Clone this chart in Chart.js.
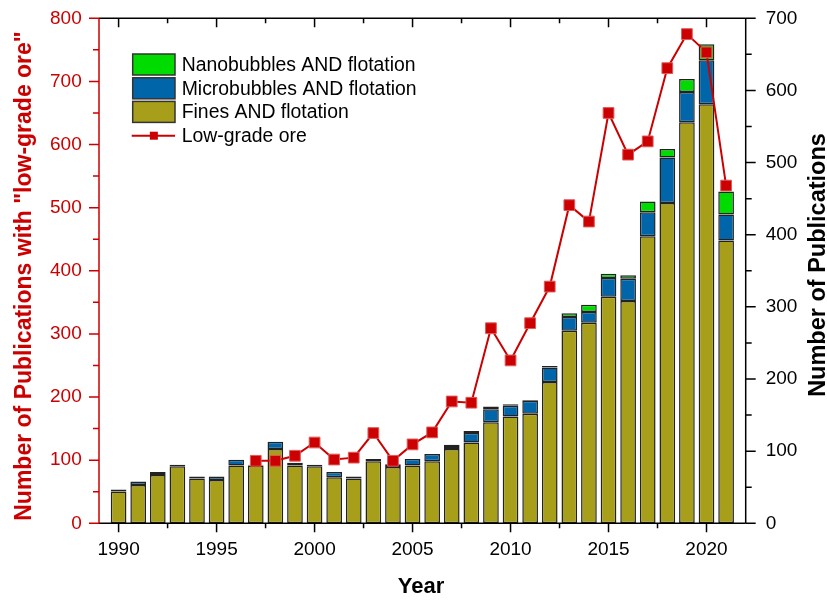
<!DOCTYPE html>
<html>
<head>
<meta charset="utf-8">
<script src="https://cdn.jsdelivr.net/npm/chart.js@4.4.1/dist/chart.umd.min.js"></script>
<style>
  html, body { margin: 0; padding: 0; background: #fff; }
  #wrap { width: 827px; height: 600px; }
</style>
</head>
<body>
<div id="wrap"><canvas id="c" width="827" height="600"></canvas></div>
<script>
// Publication counts per year (right axis, stacked bars)
const years = [1990, 1991, 1992, 1993, 1994, 1995, 1996, 1997, 1998, 1999,
               2000, 2001, 2002, 2003, 2004, 2005, 2006, 2007, 2008, 2009,
               2010, 2011, 2012, 2013, 2014, 2015, 2016, 2017, 2018, 2019,
               2020, 2021];
const fines = [44, 53, 67, 79, 62, 60, 80, 80, 103, 80,
               79, 64, 62, 86, 78, 80, 86, 103, 112, 140,
               148, 152, 196, 267, 278, 314, 308, 398, 444, 556,
               581, 392];
const micro = [3, 5, 4, 2, 3, 5, 8, 1, 10, 4,
               2, 7, 3, 3, 4, 9, 10, 4, 13, 18,
               15, 18, 20, 19, 15, 26, 31, 33, 63, 42,
               61, 36];
const nano  = [0, 0, 0, 0, 0, 0, 0, 0, 0, 0,
               0, 0, 0, 0, 0, 0, 0, 2, 3, 4,
               2, 1, 2, 5, 10, 6, 5, 15, 12, 18,
               22, 32];

// Publications with "low-grade ore" (left axis, line)
const oreYears = [1997, 1998, 1999, 2000, 2001, 2002, 2003, 2004, 2005, 2006,
                  2007, 2008, 2009, 2010, 2011, 2012, 2013, 2014, 2015, 2016,
                  2017, 2018, 2019, 2020, 2021];
const lowGradeOre = [99, 99, 107, 128, 101, 104, 143, 99, 125, 144,
                     193, 191, 309, 258, 317, 375, 504, 478, 650, 584,
                     605, 721, 775, 746, 535];

// Axis ticks
const xMajorTicks = [1990, 1995, 2000, 2005, 2010, 2015, 2020];
const leftTicks = [0, 100, 200, 300, 400, 500, 600, 700, 800];
const rightTicks = [0, 100, 200, 300, 400, 500, 600, 700];

const labels = {
  nano: 'Nanobubbles AND flotation',
  micro: 'Microbubbles AND flotation',
  fines: 'Fines AND flotation',
  ore: 'Low-grade ore'
};

const FONT = '"Liberation Sans", Arial, sans-serif';
const RED = '#CC0000';
const AREA = { left: 99, right: 745.7, top: 18.3, bottom: 523.3 };
const W = 827, H = 600;

const pairs = (xs, ys) => xs.map((x, i) => ({ x: x, y: ys[i] }));

const barStyle = {
  type: 'bar',
  yAxisID: 'yR',
  stack: 'pubs',
  borderColor: '#222',
  borderWidth: 1.5,
  borderSkipped: false,
  categoryPercentage: 1.0,
  barPercentage: 0.8,
  order: 1
};

// keep the y scales from reserving extra room for half-height labels
const fitVertical = width => s => {
  s.width = width;
  s.paddingTop = 0;
  s.paddingBottom = 0;
};

// Frame, tick marks, titles and the legend box
const decorations = {
  id: 'decorations',
  afterDraw(chart) {
    const ctx = chart.ctx;
    const a = chart.chartArea;
    const sx = chart.scales.x, sl = chart.scales.yL, sr = chart.scales.yR;
    ctx.save();
    ctx.lineWidth = 1.5;
    ctx.lineCap = 'butt';

    // frame
    ctx.strokeStyle = '#000';
    ctx.beginPath();
    ctx.moveTo(a.left, a.top); ctx.lineTo(a.right, a.top);
    ctx.moveTo(a.right, a.top); ctx.lineTo(a.right, a.bottom);
    ctx.moveTo(a.left, a.bottom); ctx.lineTo(a.right, a.bottom);
    ctx.stroke();

    // x ticks (bottom: outward, top: inward)
    const xMinor = [];
    for (let i = 0; i < xMajorTicks.length - 1; i++) xMinor.push((xMajorTicks[i] + xMajorTicks[i + 1]) / 2);
    ctx.beginPath();
    xMajorTicks.forEach(v => {
      const px = sx.getPixelForValue(v);
      ctx.moveTo(px, a.bottom); ctx.lineTo(px, a.bottom + 9);
      ctx.moveTo(px, a.top); ctx.lineTo(px, a.top + 9);
    });
    xMinor.forEach(v => {
      const px = sx.getPixelForValue(v);
      ctx.moveTo(px, a.bottom); ctx.lineTo(px, a.bottom + 5);
      ctx.moveTo(px, a.top); ctx.lineTo(px, a.top + 5);
    });
    ctx.stroke();

    // right ticks
    ctx.beginPath();
    rightTicks.forEach((v, i) => {
      const py = sr.getPixelForValue(v);
      ctx.moveTo(a.right, py); ctx.lineTo(a.right + 10, py);
      if (i < rightTicks.length - 1) {
        const pm = sr.getPixelForValue((v + rightTicks[i + 1]) / 2);
        ctx.moveTo(a.right, pm); ctx.lineTo(a.right + 6, pm);
      }
    });
    ctx.stroke();

    // left axis in red
    ctx.strokeStyle = RED;
    ctx.beginPath();
    ctx.moveTo(a.left, a.top); ctx.lineTo(a.left, a.bottom);
    leftTicks.forEach((v, i) => {
      const py = sl.getPixelForValue(v);
      ctx.moveTo(a.left, py); ctx.lineTo(a.left - 10, py);
      if (i < leftTicks.length - 1) {
        const pm = sl.getPixelForValue((v + leftTicks[i + 1]) / 2);
        ctx.moveTo(a.left, pm); ctx.lineTo(a.left - 6, pm);
      }
    });
    ctx.stroke();

    // axis titles
    ctx.textAlign = 'center';
    ctx.textBaseline = 'alphabetic';
    ctx.font = 'bold 23px ' + FONT;
    ctx.fillStyle = RED;
    ctx.save();
    ctx.translate(30.5, 276);
    ctx.rotate(-Math.PI / 2);
    ctx.fillText('Number of Publications with "low-grade ore"', 0, 0);
    ctx.restore();

    ctx.fillStyle = '#000';
    ctx.font = 'bold 23.5px ' + FONT;
    ctx.save();
    ctx.translate(825, 265);
    ctx.rotate(-Math.PI / 2);
    ctx.fillText('Number of Publications', 0, 0);
    ctx.restore();

    ctx.font = 'bold 22px ' + FONT;
    ctx.fillText('Year', 421, 593);

    // legend
    const ds = chart.data.datasets;
    const rows = [ds[2], ds[1], ds[0]];
    const lx = 132.7, lw = 42.3, lh = 21, textX = 181.7;
    const rowY = [64.5, 88.3, 111.9, 135.7];
    ctx.font = '19.4px ' + FONT;
    ctx.textAlign = 'left';
    ctx.textBaseline = 'middle';
    rows.forEach((d, i) => {
      ctx.fillStyle = d.backgroundColor;
      ctx.fillRect(lx, rowY[i] - lh / 2, lw, lh);
      ctx.strokeStyle = '#333';
      ctx.lineWidth = 1.5;
      ctx.strokeRect(lx, rowY[i] - lh / 2, lw, lh);
      ctx.fillStyle = '#000';
      ctx.fillText(d.label, textX, rowY[i] + 1);
    });
    const ore = ds[3];
    ctx.strokeStyle = ore.borderColor;
    ctx.lineWidth = 2;
    ctx.beginPath();
    ctx.moveTo(lx - 1, rowY[3]); ctx.lineTo(lx + lw, rowY[3]);
    ctx.stroke();
    ctx.fillStyle = ore.pointBackgroundColor;
    ctx.fillRect(lx + lw / 2 - 4, rowY[3] - 4, 8, 8);
    ctx.fillStyle = '#000';
    ctx.fillText(ore.label, textX, rowY[3] + 1);

    ctx.restore();
  }
};

new Chart(document.getElementById('c'), {
  data: {
    datasets: [
      Object.assign({}, barStyle, { label: labels.fines, data: pairs(years, fines), backgroundColor: '#A79F19' }),
      Object.assign({}, barStyle, { label: labels.micro, data: pairs(years, micro), backgroundColor: '#0066A9' }),
      Object.assign({}, barStyle, { label: labels.nano, data: pairs(years, nano), backgroundColor: '#00DC00' }),
      {
        type: 'line',
        label: labels.ore,
        yAxisID: 'yL',
        data: pairs(oreYears, lowGradeOre),
        borderColor: RED,
        borderWidth: 2,
        pointStyle: 'rect',
        pointRadius: 7.6,
        pointBackgroundColor: RED,
        pointBorderColor: '#DE5A5A',
        pointBorderWidth: 1,
        tension: 0,
        order: 0
      }
    ]
  },
  options: {
    responsive: false,
    devicePixelRatio: 1,
    animation: false,
    events: [],
    layout: { padding: { top: AREA.top, left: 0, right: 0, bottom: 0 } },
    plugins: { legend: { display: false }, tooltip: { enabled: false } },
    scales: {
      x: {
        type: 'linear',
        position: 'bottom',
        min: 1989,
        max: 2022,
        offset: false,
        afterBuildTicks: s => { s.ticks = xMajorTicks.map(v => ({ value: v })); },
        afterFit: s => { s.height = H - AREA.bottom; s.paddingLeft = 0; s.paddingRight = 0; },
        grid: { display: false, drawTicks: false, offset: false },
        border: { display: false },
        ticks: {
          autoSkip: false, maxRotation: 0, color: '#000', padding: 15,
          font: { family: FONT, size: 19 },
          callback: v => String(v)
        }
      },
      yL: {
        type: 'linear',
        position: 'left',
        min: 0,
        max: 800,
        afterBuildTicks: s => { s.ticks = leftTicks.map(v => ({ value: v })); },
        afterFit: fitVertical(AREA.left),
        grid: { display: false, drawTicks: false },
        border: { display: false },
        ticks: { color: RED, padding: 17.3, font: { family: FONT, size: 19 } }
      },
      yR: {
        type: 'linear',
        position: 'right',
        min: 0,
        max: 700,
        stacked: true,
        afterBuildTicks: s => { s.ticks = rightTicks.map(v => ({ value: v })); },
        afterFit: fitVertical(W - AREA.right),
        grid: { display: false, drawTicks: false },
        border: { display: false },
        ticks: { color: '#000', padding: 20, font: { family: FONT, size: 19 } }
      }
    }
  },
  plugins: [decorations]
});
</script>
</body>
</html>
